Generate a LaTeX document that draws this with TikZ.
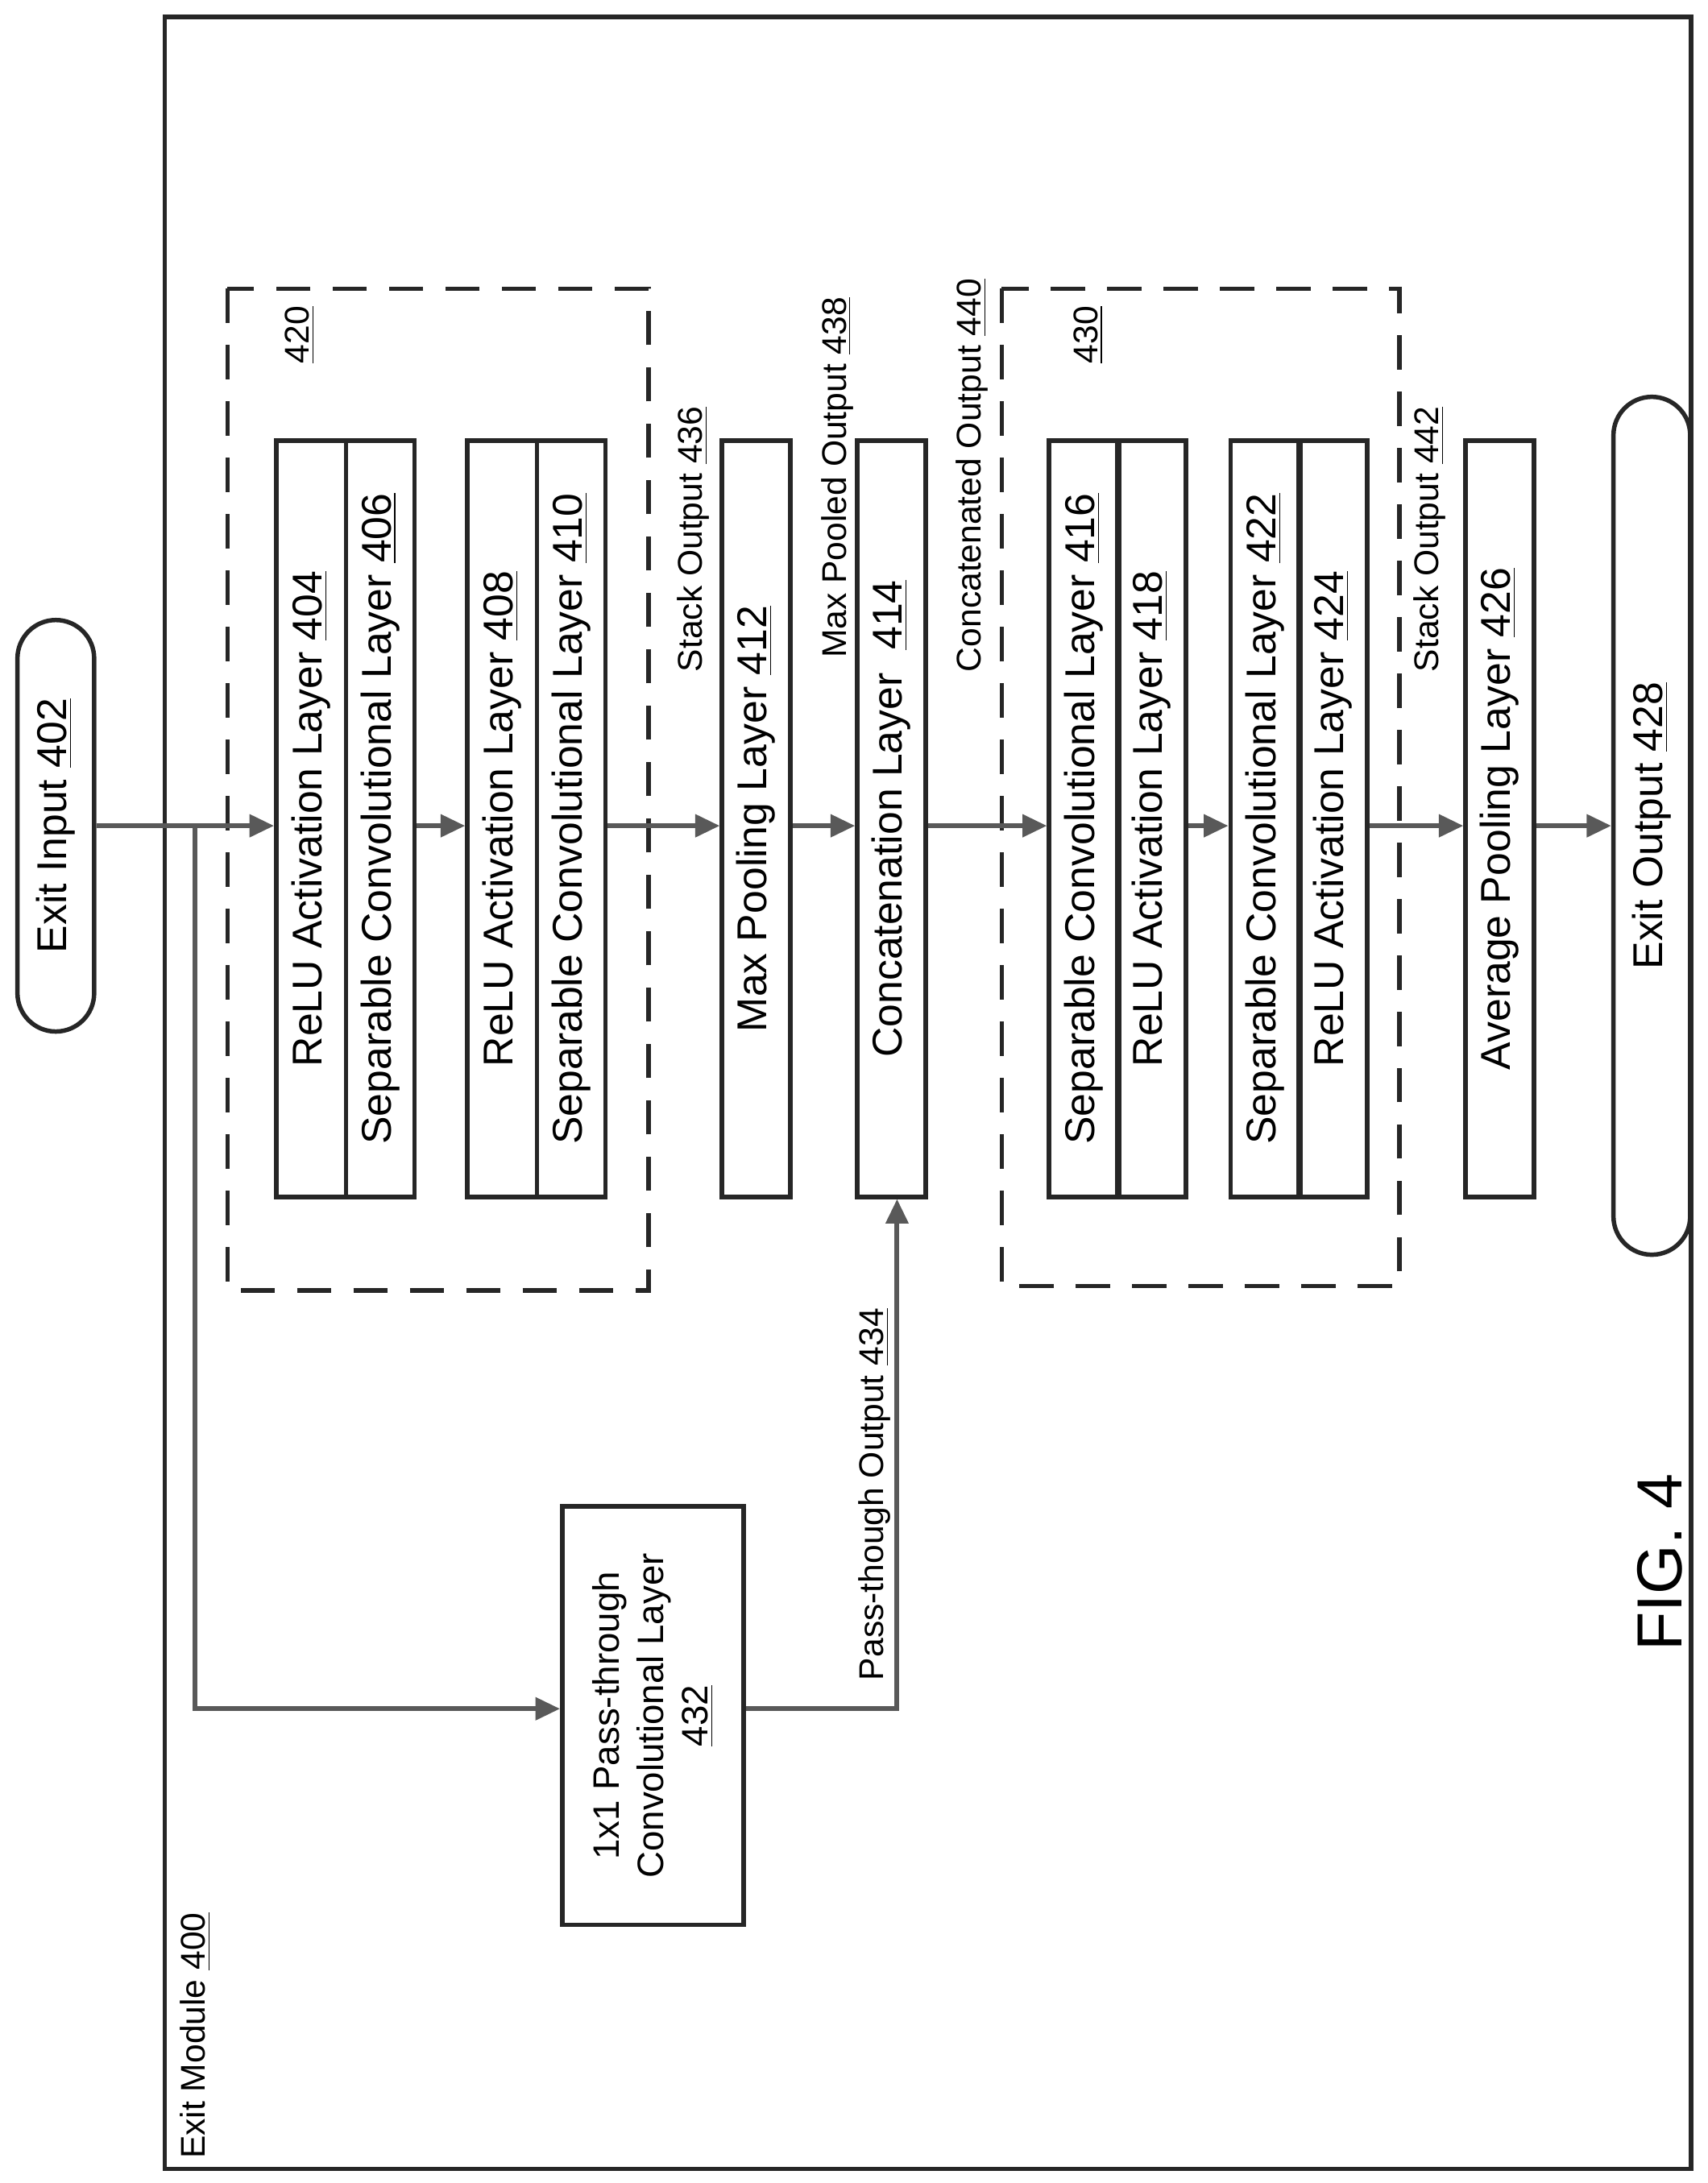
\documentclass[tikz,border=0pt]{standalone}
\usepackage{fontspec}
\setmainfont{Liberation Sans}
\usetikzlibrary{arrows.meta,positioning}
\tikzset{
  layer/.style={draw=black!85,line width=1.8pt,rotate=90,minimum width=108.4mm,minimum height=9.8mm,inner sep=0pt,font=\fontsize{17}{20}\selectfont},
  term/.style={draw=black!85,line width=1.8pt,rounded corners=5.5mm,rotate=90,minimum height=11mm,inner sep=0pt,font=\fontsize{17}{20}\selectfont},
  stack/.style={draw=black!85,line width=1.8pt,dash pattern=on 14pt off 9pt},
  flow/.style={draw=black!65,line width=2pt,-{Triangle[length=10pt,width=9pt]}},
  lbl/.style={rotate=90,font=\fontsize{14}{17}\selectfont,inner sep=0pt}
}
\begin{document}
\begin{tikzpicture}[x=0.2mm,y=-0.2mm]
\useasboundingbox (0,0) rectangle (1224,1565);
\draw[line width=1.8pt,black!85] (118,12) rectangle (1212,1555);
\node[lbl,anchor=west] at (140,1548) {Exit Module \underline{400}};
\node[lbl] at (1190,1120) {\fontsize{26}{30}\selectfont FIG. 4};

\node[term,minimum width=59mm] (in) at (40,592) {Exit Input \underline{402}};
\node[term,minimum width=123mm] (out) at (1184,592) {Exit Output \underline{428}};

% stack 420
\draw[stack] (163,207) rectangle (465,925);
\node[lbl] at (215,240) {\underline{420}};
\node[layer,minimum height=10mm] (relu1) at (223,587) {ReLU Activation Layer \underline{404}};
\node[layer,minimum height=9.8mm] (sep1) at (272.5,587) {Separable Convolutional Layer \underline{406}};
\node[layer,minimum height=10mm] (relu2) at (360,587) {ReLU Activation Layer \underline{408}};
\node[layer,minimum height=9.8mm] (sep2) at (409.5,587) {Separable Convolutional Layer \underline{410}};

\node[layer] (maxpool) at (542,587) {Max Pooling Layer \underline{412}};
\node[layer] (concat) at (639,587) {Concatenation Layer \ \underline{414}};

% stack 430
\draw[stack] (718,207) rectangle (1003,922);
\node[lbl] at (780,240) {\underline{430}};
\node[layer,minimum height=10mm] (sep3) at (777,587) {Separable Convolutional Layer \underline{416}};
\node[layer,minimum height=9.8mm] (relu3) at (825.5,587) {ReLU Activation Layer \underline{418}};
\node[layer,minimum height=10mm] (sep4) at (907,587) {Separable Convolutional Layer \underline{422}};
\node[layer,minimum height=9.8mm] (relu4) at (955.5,587) {ReLU Activation Layer \underline{424}};

\node[layer] (avgpool) at (1075,587) {Average Pooling Layer \underline{426}};

\node[layer,minimum width=60mm,minimum height=26mm,align=center,font=\fontsize{15}{18}\selectfont] (pass) at (468,1230)
  {1x1 Pass-through\\Convolutional Layer\\\underline{432}};

% output labels
\node[lbl,anchor=west] at (497,482) {Stack Output \underline{436}};
\node[lbl,anchor=west] at (600,472) {Max Pooled Output \underline{438}};
\node[lbl,anchor=west] at (697,482) {Concatenated Output \underline{440}};
\node[lbl,anchor=west] at (1025,482) {Stack Output \underline{442}};
\node[lbl,anchor=west] at (627,1205) {Pass-though Output \underline{434}};

% connectors
\coordinate (split) at (140,592);
\coordinate (down) at (140,1225);
\coordinate (turn) at (643,1225);
\draw[flow] (in.south |- split) -- (relu1.north |- split);
\draw[flow] (sep1.south |- split) -- (relu2.north |- split);
\draw[flow] (sep2.south |- split) -- (maxpool.north |- split);
\draw[flow] (maxpool.south |- split) -- (concat.north |- split);
\draw[flow] (concat.south |- split) -- (sep3.north |- split);
\draw[flow] (relu3.south |- split) -- (sep4.north |- split);
\draw[flow] (relu4.south |- split) -- (avgpool.north |- split);
\draw[flow] (avgpool.south |- split) -- (out.north |- split);
\draw[flow] (split) -- (down) -- (pass.north |- down);
\draw[flow] (pass.south |- turn) -- (turn) -- (turn |- concat.west);
\end{tikzpicture}
\end{document}
